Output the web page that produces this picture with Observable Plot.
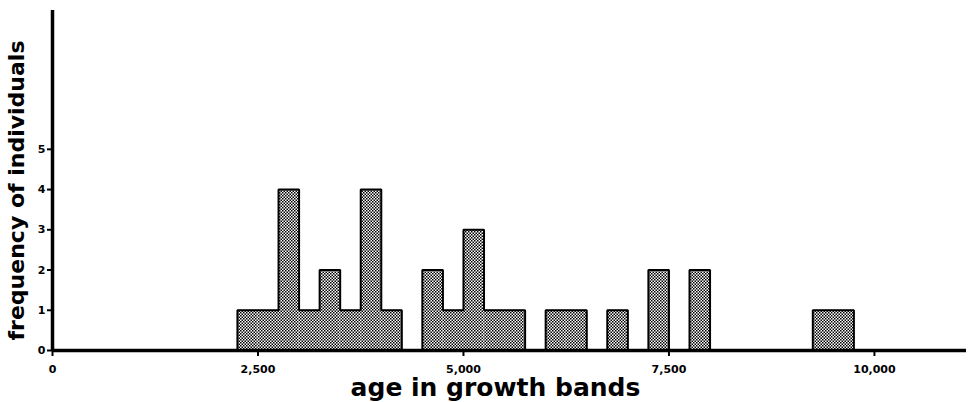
<!DOCTYPE html>
<html><head><meta charset="utf-8">
<script src="https://cdn.jsdelivr.net/npm/d3@7"></script>
<script src="https://cdn.jsdelivr.net/npm/@observablehq/plot@0.6"></script>
<style>html,body{margin:0;padding:0;background:#fff}</style>
</head><body><div id="chart"></div>
<script>
const binWidth = 250;
const binStarts = [2250,2500,2750,3000,3250,3500,3750,4000,4500,4750,5000,5250,5500,6000,6250,6750,7250,7750,9250,9500];
const counts    = [1,   1,   4,   1,   2,   1,   4,   1,   2,   1,   3,   1,   1,   1,   1,   1,   2,   2,   1,   1];
const xTicks = [0, 2500, 5000, 7500, 10000];
const yTicks = [0, 1, 2, 3, 4, 5];
const xLabel = "age in growth bands";
const yLabel = "frequency of individuals";
const xMax = 11120;
const yMax = 8.45;

const bins = binStarts.map((s, i) => ({x1: s, x2: s + binWidth, count: counts[i]}));

// outline of contiguous runs (union outline, no inner lines)
const outline = [];
let run = -1, prevEnd = null;
bins.forEach((b, i) => {
  if (prevEnd === null || b.x1 !== prevEnd) {
    if (prevEnd !== null) outline.push({x: prevEnd, y: 0, run});
    run++;
    outline.push({x: b.x1, y: 0, run});
  }
  outline.push({x: b.x1, y: b.count, run});
  outline.push({x: b.x2, y: b.count, run});
  prevEnd = b.x2;
});
outline.push({x: prevEnd, y: 0, run});

const defs = () => {
  const d = d3.create("svg:defs");
  const p = d.append("pattern").attr("id", "dots").attr("patternUnits", "userSpaceOnUse")
    .attr("width", 3).attr("height", 3);
  p.append("rect").attr("width", 3).attr("height", 3).attr("fill", "#fff");
  p.append("rect").attr("x", 0).attr("y", 0).attr("width", 1.5).attr("height", 1.5).attr("fill", "#000");
  p.append("rect").attr("x", 1.5).attr("y", 1.5).attr("width", 1.5).attr("height", 1.5).attr("fill", "#000");
  return d.node();
};

const chart = Plot.plot({
  width: 973,
  height: 402,
  marginLeft: 52,
  marginRight: 7,
  marginTop: 10,
  marginBottom: 52,
  style: {fontFamily: "'DejaVu Sans', sans-serif", fontWeight: "bold", fontSize: "11px", color: "#000", background: "#fff"},
  x: {domain: [0, xMax]},
  y: {domain: [0, yMax]},
  marks: [
    defs,
    Plot.rect(bins, {x1: "x1", x2: "x2", y1: 0, y2: "count", fill: "url(#dots)"}),
    Plot.line(outline, {x: "x", y: "y", z: "run", stroke: "#000", strokeWidth: 2, strokeLinejoin: "miter"}),
    Plot.axisX(xTicks, {tickSize: 6, strokeWidth: 2, tickPadding: 9, tickFormat: d3.format(","), label: null, fontSize: 11}),
    Plot.axisY(yTicks, {tickSize: 5, strokeWidth: 2, tickPadding: 2, label: null, fontSize: 11}),
    Plot.ruleX([0], {y1: 0, y2: yMax, strokeWidth: 3.5}),
    Plot.ruleY([0], {strokeWidth: 3.5}),
    Plot.text([xLabel], {frameAnchor: "bottom", textAnchor: "middle", lineAnchor: "middle", dx: -14, dy: 37, fontSize: 25, fontWeight: "bold"}),
    Plot.text([yLabel], {frameAnchor: "left", textAnchor: "middle", lineAnchor: "middle", rotate: -90, dx: -36, dy: 10, fontSize: 22, fontWeight: "bold"})
  ]
});
document.getElementById("chart").appendChild(chart);
</script>
</body></html>
